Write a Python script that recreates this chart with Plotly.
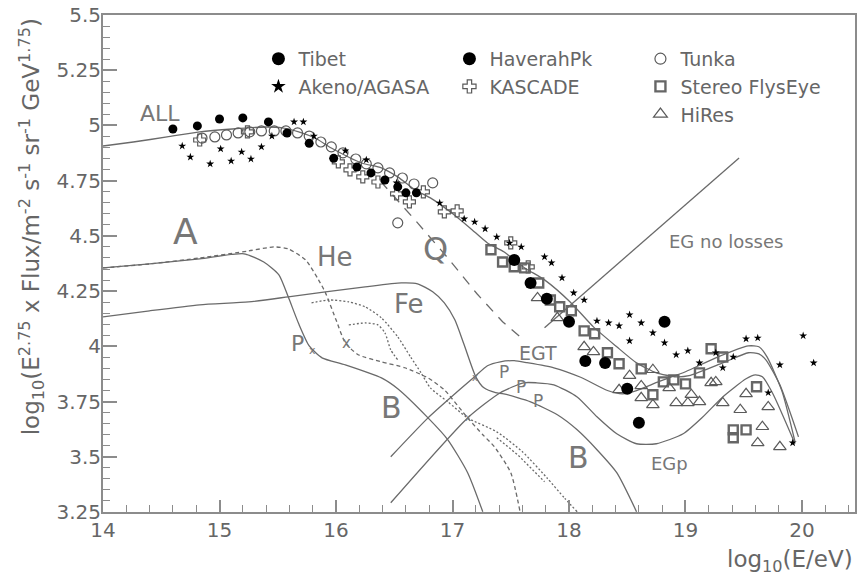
import plotly.graph_objects as go

# ---------------- data ----------------
tibet_x = [14.60, 14.81, 15.00, 15.20, 15.42, 15.58, 15.77, 15.98, 16.18, 16.30, 16.42, 16.53, 16.60, 16.69]
tibet_y = [4.984, 4.998, 5.029, 5.034, 5.016, 4.966, 4.919, 4.851, 4.812, 4.785, 4.753, 4.722, 4.695, 4.695]

akeno_x = [14.68, 14.75, 14.92, 15.01, 15.10, 15.19, 15.27, 15.36, 15.45, 15.64, 15.72, 15.81, 16.08, 16.26,
           16.52, 16.60, 16.89, 17.10, 17.19, 17.28, 17.38, 17.49, 17.59, 17.79, 17.85, 17.94, 18.04, 18.13,
           18.24, 18.34, 18.43, 18.52, 18.62, 18.72, 18.52, 18.82, 18.92, 19.02, 19.12, 19.26, 19.32, 19.41,
           19.52, 19.62, 19.71, 19.81, 19.92, 20.01, 20.10]
akeno_y = [4.907, 4.857, 4.826, 4.894, 4.839, 4.880, 4.848, 4.903, 4.952, 5.016, 5.016, 4.952, 4.885, 4.844,
           4.740, 4.695, 4.649, 4.577, 4.563, 4.532, 4.495, 4.468, 4.450, 4.405, 4.378, 4.310, 4.242, 4.210,
           4.115, 4.106, 4.093, 4.143, 4.106, 4.061, 4.025, 4.016, 3.962, 3.980, 3.925, 3.971, 3.903, 3.952,
           4.034, 4.038, 3.790, 3.916, 3.563, 4.048, 3.925]

haverah_x = [17.53, 17.67, 17.81, 18.00, 18.14, 18.31, 18.50, 18.60, 18.82]
haverah_y = [4.391, 4.287, 4.215, 4.111, 3.934, 3.925, 3.808, 3.654, 4.111]

kascade_x = [14.83, 15.24, 16.02, 16.12, 16.23, 16.36, 16.52, 16.63, 16.75, 16.93, 17.04, 17.50, 17.65]
kascade_y = [4.934, 4.971, 4.835, 4.799, 4.767, 4.744, 4.690, 4.654, 4.699, 4.609, 4.613, 4.468, 4.360]

tunka_x = [14.85, 14.96, 15.06, 15.16, 15.26, 15.36, 15.47, 15.57, 15.67, 15.77, 15.87, 15.96, 16.06, 16.17,
           16.26, 16.36, 16.46, 16.57, 16.67, 16.53, 16.83]
tunka_y = [4.943, 4.948, 4.957, 4.966, 4.971, 4.975, 4.975, 4.975, 4.966, 4.952, 4.925, 4.903, 4.876, 4.848,
           4.826, 4.808, 4.785, 4.762, 4.735, 4.559, 4.740]

stereo_x = [17.33, 17.43, 17.53, 17.62, 17.74, 17.84, 17.92, 18.02, 18.13, 18.22, 18.33, 18.43, 18.62, 18.72,
            18.81, 18.90, 19.00, 19.12, 19.22, 19.32, 19.41, 19.41, 19.52, 19.61]
stereo_y = [4.437, 4.382, 4.360, 4.355, 4.287, 4.210, 4.179, 4.161, 4.070, 4.057, 3.971, 3.921, 3.898, 3.781,
            3.839, 3.848, 3.830, 3.880, 3.989, 3.952, 3.586, 3.622, 3.622, 3.817]

hires_x = [17.73, 17.90, 18.13, 18.21, 18.43, 18.52, 18.62, 18.62, 18.72, 18.72, 18.86, 18.92, 19.02, 19.05,
           19.12, 19.22, 19.26, 19.32, 19.47, 19.52, 19.62, 19.66, 19.71, 19.81]
hires_y = [4.219, 4.129, 3.998, 3.975, 3.803, 3.867, 3.821, 3.767, 3.894, 3.735, 3.812, 3.744, 3.744, 3.781,
           3.749, 3.835, 3.839, 3.744, 3.713, 3.785, 3.563, 3.636, 3.726, 3.545]

# model curves
all_x = [14.00, 14.26, 14.55, 14.83, 15.11, 15.40, 15.54, 15.68, 15.82, 15.96, 16.22, 16.39, 16.53, 16.68,
         16.81, 16.98, 17.15, 17.30, 17.44, 17.62, 17.79, 18.01, 18.21, 18.41, 18.58, 18.75, 18.92, 19.03,
         19.32, 19.54, 19.63, 19.69, 19.81, 19.97]
all_y = [4.907, 4.925, 4.948, 4.971, 4.984, 4.993, 4.989, 4.971, 4.943, 4.898, 4.830, 4.808, 4.767, 4.708,
         4.672, 4.609, 4.536, 4.468, 4.428, 4.355, 4.301, 4.201, 4.088, 3.998, 3.925, 3.880, 3.862, 3.867,
         3.925, 3.971, 3.966, 3.939, 3.826, 3.590]

egt_x = [16.47, 16.79, 17.04, 17.19, 17.30, 17.41, 17.53, 17.64, 17.87, 18.10, 18.33, 18.46, 18.58, 18.77,
         19.00, 19.26, 19.54, 19.63, 19.70, 19.83, 19.94]
egt_y = [3.500, 3.676, 3.794, 3.862, 3.912, 3.930, 3.935, 3.926, 3.903, 3.860, 3.800, 3.785, 3.800, 3.840,
         3.885, 3.948, 4.002, 3.998, 3.952, 3.794, 3.568]

egp_x = [16.47, 17.13, 17.41, 17.61, 17.72, 17.87, 18.07, 18.24, 18.41, 18.58, 18.75, 18.98, 19.15, 19.32,
         19.52, 19.60, 19.66, 19.75, 19.94]
egp_y = [3.292, 3.676, 3.790, 3.835, 3.835, 3.826, 3.771, 3.681, 3.604, 3.559, 3.559, 3.604, 3.681, 3.771,
         3.853, 3.871, 3.862, 3.785, 3.559]

p_x = [14.00, 14.40, 14.83, 15.21, 15.38, 15.51, 15.59, 15.68, 15.77, 15.88, 16.08, 16.39, 16.53, 16.79,
       16.96, 17.13, 17.26]
p_y = [4.355, 4.373, 4.396, 4.419, 4.382, 4.324, 4.224, 4.102, 4.002, 3.948, 3.916, 3.857, 3.808, 3.676,
       3.577, 3.428, 3.251]

he_x = [14.00, 14.40, 14.83, 15.25, 15.47, 15.59, 15.74, 15.85, 15.91, 16.00, 16.08, 16.19, 16.39, 16.59,
        16.79, 16.93, 17.13, 17.26, 17.36, 17.50, 17.58]
he_y = [4.355, 4.373, 4.400, 4.432, 4.450, 4.441, 4.391, 4.301, 4.242, 4.120, 4.016, 3.962, 3.930, 3.903,
        3.857, 3.803, 3.676, 3.600, 3.545, 3.428, 3.251]

fe_x = [14.00, 14.40, 14.83, 15.25, 15.59, 15.91, 16.25, 16.56, 16.70, 16.83, 16.93, 17.02, 17.10, 17.20,
        17.27, 17.37, 17.44, 17.67, 17.90, 18.07, 18.24, 18.41, 18.58]
fe_y = [4.133, 4.161, 4.188, 4.201, 4.224, 4.247, 4.269, 4.287, 4.283, 4.247, 4.197, 4.120, 4.007, 3.862,
        3.812, 3.790, 3.785, 3.749, 3.690, 3.622, 3.532, 3.428, 3.251]

q_x = [16.28, 16.45, 16.70, 16.96, 17.21, 17.43, 17.62]
q_y = [4.808, 4.708, 4.559, 4.400, 4.238, 4.111, 4.025]

dot1_x = [15.79, 15.94, 16.11, 16.25, 16.39, 16.53, 16.64, 16.73, 16.81, 16.96, 17.13, 17.38, 17.60, 17.81,
          17.96, 18.07]
dot1_y = [4.197, 4.210, 4.201, 4.179, 4.129, 4.043, 3.952, 3.880, 3.812, 3.749, 3.676, 3.613, 3.523, 3.405,
          3.314, 3.251]
dot2_x = [16.11, 16.25, 16.36, 16.42, 16.47, 16.53]
dot2_y = [4.097, 4.106, 4.097, 4.061, 3.984, 3.939]
dot3_x = [17.38, 17.56, 17.79]
dot3_y = [3.586, 3.509, 3.387]

egnl_x = [17.79, 19.46]
egnl_y = [4.084, 4.853]

x_tickvals = [14, 15, 16, 17, 18, 19, 20]
x_ticktext = ["14", "15", "16", "17", "18", "19", "20"]
y_tickvals = [3.25, 3.5, 3.75, 4.0, 4.25, 4.5, 4.75, 5.0, 5.25, 5.5]
y_ticktext = ["3.25", "3.5", "3.75", "4", "4.25", "4.5", "4.75", "5", "5.25", "5.5"]

labels = [
    ("ALL", 14.49, 5.052, 22), ("A", 14.71, 4.518, 36), ("He", 15.99, 4.405, 26),
    ("Fe", 16.63, 4.192, 26), ("Q", 16.85, 4.441, 32), ("P", 15.67, 4.011, 22),
    ("x", 15.80, 3.980, 11), ("x", 16.09, 4.016, 15), ("B", 16.48, 3.722, 30),
    ("B", 18.08, 3.495, 30), ("EGT", 17.73, 3.971, 19), ("EGp", 18.86, 3.468, 18),
    ("EG no losses", 19.35, 4.473, 18), ("P", 17.44, 3.885, 17), ("P", 17.59, 3.817, 17),
    ("P", 17.73, 3.753, 17), ("x", 17.19, 3.857, 10), ("x", 17.13, 3.676, 10),
]

FONT = "DejaVu Sans"
LC = "#6a6a6a"
MC = "#5a5a5a"

fig = go.Figure()

def curve(x, y, dash="solid", smooth=True, width=1.3):
    fig.add_trace(go.Scatter(
        x=x, y=y, mode="lines", showlegend=False, hoverinfo="skip",
        line=dict(color=LC, width=width, dash=dash,
                  shape="spline" if smooth else "linear", smoothing=0.6 if smooth else None)))

curve(all_x, all_y)
curve(egt_x, egt_y)
curve(egp_x, egp_y)
curve(p_x, p_y)
curve(he_x, he_y, dash="4px,3px")
curve(fe_x, fe_y)
curve(q_x, q_y, dash="10px,8px", smooth=False)
curve(dot1_x, dot1_y, dash="2px,2px")
curve(dot2_x, dot2_y, dash="2px,2px")
curve(dot3_x, dot3_y, dash="2px,2px", smooth=False)
curve(egnl_x, egnl_y, smooth=False)

# (name, x, y, symbol, data size, legend size, colour, line width, legend rank)
series = [
    ("Tunka", tunka_x, tunka_y, "circle-open", 10, 11, MC, 1.2, 3),
    ("KASCADE", kascade_x, kascade_y, "cross-open", 10, 11, MC, 1.2, 5),
    ("Stereo FlysEye", stereo_x, stereo_y, "square-open", 9, 10, "#666", 2.4, 6),
    ("HiRes", hires_x, hires_y, "triangle-up-open", 11, 12, MC, 1.2, 9),
    ("Tibet", tibet_x, tibet_y, "circle", 9, 13, "black", 0, 1),
    ("Akeno/AGASA", akeno_x, akeno_y, "star", 6, 11, "black", 0, 4),
    ("HaverahPk", haverah_x, haverah_y, "circle", 12, 13, "black", 0, 2),
]
for name, sx, sy, sym, size, lsize, col, lw, rank in series:
    fig.add_trace(go.Scatter(
        x=sx, y=sy, mode="markers", name=name, showlegend=False,
        marker=dict(symbol=sym, size=size, color=col, line=dict(width=lw, color=col))))
    fig.add_trace(go.Scatter(
        x=[None], y=[None], mode="markers", name=name, legendrank=rank, hoverinfo="skip",
        marker=dict(symbol=sym, size=lsize, color=col, line=dict(width=lw, color=col))))

# empty legend slots so that HiRes sits in the third column
for r in (7, 8):
    fig.add_trace(go.Scatter(x=[None], y=[None], mode="markers", name=" ", legendrank=r,
                             marker=dict(size=1, color="rgba(0,0,0,0)"), hoverinfo="skip"))

for txt, lx, ly, fs in labels:
    fig.add_annotation(x=lx, y=ly, text=txt, showarrow=False, xref="x", yref="y",
                       font=dict(family=FONT, size=fs, color="#777"))

fig.add_annotation(xref="paper", yref="paper", x=-0.095, y=0.574, xanchor="center", yanchor="middle",
                   textangle=-90, showarrow=False,
                   text="log<sub>10</sub>(E<sup>2.75</sup> x Flux/m<sup>-2</sup> s<sup>-1</sup> sr<sup>-1</sup> GeV<sup>1.75</sup>)",
                   font=dict(family=FONT, size=23, color="#666"))
fig.add_annotation(xref="paper", yref="paper", x=1.0, xanchor="right", y=-0.098, yanchor="middle",
                   showarrow=False,
                   text="log<sub>10</sub>(E/eV)", font=dict(family=FONT, size=23, color="#666"))

axis_common = dict(showline=True, linecolor="#8c8c8c", linewidth=2, mirror=True, ticks="inside",
                   tickcolor="#8c8c8c", tickwidth=1.5, showgrid=False, zeroline=False,
                   tickfont=dict(family=FONT, size=20, color="#666"), tickmode="array")

fig.update_xaxes(range=[14, 20.455], tickvals=x_tickvals, ticktext=x_ticktext, ticklen=12,
                 ticklabelstandoff=-1,
                 minor=dict(tickmode="linear", tick0=14, dtick=0.2, ticks="inside", ticklen=7,
                            tickcolor="#8c8c8c", tickwidth=1.2, showgrid=False),
                 **axis_common)
fig.update_yaxes(range=[3.25, 5.5], tickvals=y_tickvals, ticktext=y_ticktext, ticklen=14,
                 ticklabelstandoff=-4,
                 minor=dict(tickmode="linear", tick0=3.25, dtick=0.05, ticks="inside", ticklen=7,
                            tickcolor="#8c8c8c", tickwidth=1.2, showgrid=False),
                 **axis_common)

fig.update_layout(
    width=858, height=582, margin=dict(l=103, r=1, t=15, b=70),
    plot_bgcolor="white", paper_bgcolor="white",
    font=dict(family=FONT, color="#666"),
    legend=dict(orientation="h", x=0.2067, y=0.950, xanchor="left", yanchor="top",
                entrywidth=146, entrywidthmode="pixels", traceorder="normal",
                font=dict(family=FONT, size=19, color="#666"), bgcolor="rgba(0,0,0,0)"),
)

fig.write_html("out.html", config={"displayModeBar": False},
               post_script="document.body.style.margin='0';")
